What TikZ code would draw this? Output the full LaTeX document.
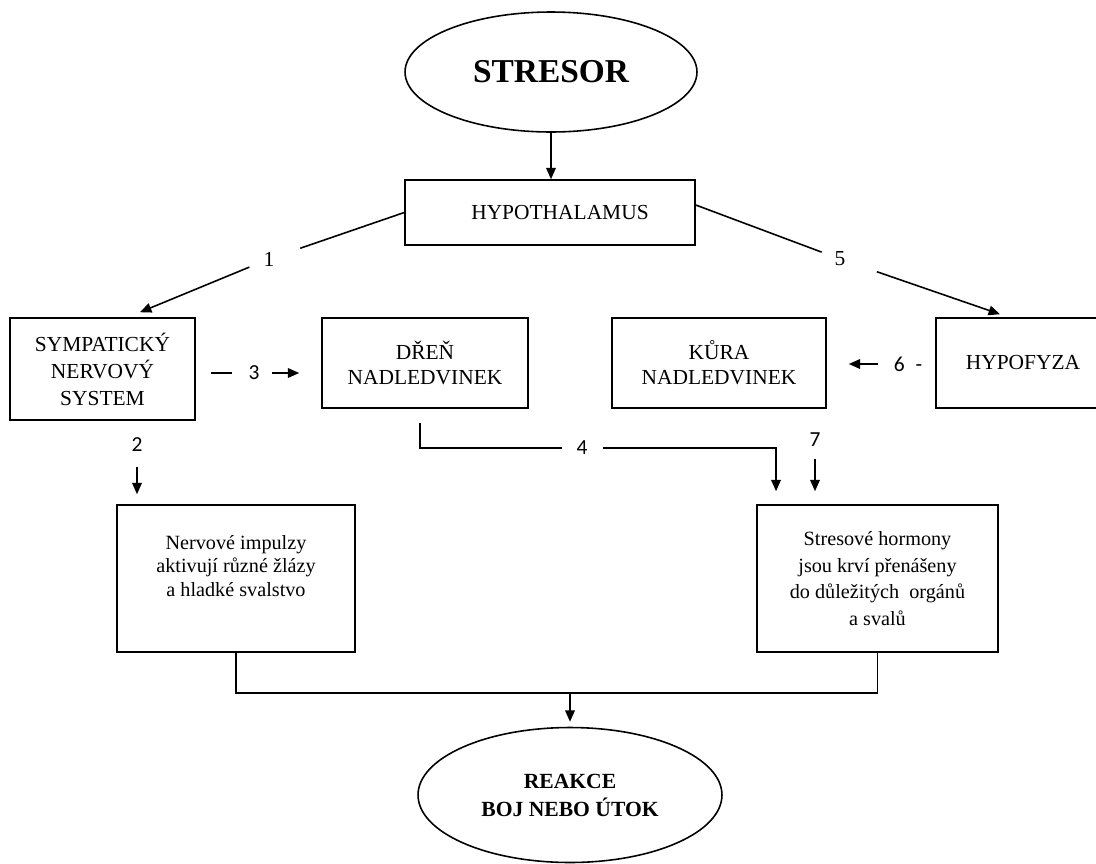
\documentclass[tikz,border=0pt]{standalone}
\usepackage{fontspec}
\setmainfont{Liberation Serif}
\newfontfamily\numfont{Carlito}
\usetikzlibrary{shapes.geometric,arrows.meta}

\begin{document}
\begin{tikzpicture}[x=0.02cm, y=-0.02cm,
	box/.style={draw, line width=0.9pt, inner sep=0pt, align=center, font=\fontsize{12.2}{15.4}\selectfont},
	oval/.style={draw, ellipse, line width=0.9pt, inner sep=0pt, align=center},
	small/.style={align=center, inner sep=0pt, font=\fontsize{11.5}{13.4}\selectfont},
	num/.style={inner sep=0pt, font=\fontsize{12.2}{14}\selectfont\numfont},
	snum/.style={inner sep=0pt, font=\fontsize{12.2}{14}\selectfont},
	line/.style={line width=0.9pt},
	arr/.style={line width=0.9pt, -{Triangle[length=6.5pt,width=5.5pt]}}]
	\useasboundingbox (0,0) rectangle (1096,863);
	\clip (0,0) rectangle (1096,863);
	% ovals
	\node[oval, minimum width=5.84cm, minimum height=2.4cm, font=\fontsize{19}{22}\selectfont\bfseries] (stresor) at (551,72) {STRESOR};
	\node[oval, minimum width=6.08cm, minimum height=2.7cm, font=\fontsize{12.3}{16}\selectfont\bfseries] (reakce) at (570,795) {REAKCE\\BOJ NEBO ÚTOK};
	% boxes
	\node[box, minimum width=5.8cm, minimum height=1.3cm] (hypothal) at (550,212.5) {\hspace*{0.4cm}HYPOTHALAMUS};
	\node[box, minimum width=3.7cm, minimum height=2.04cm] (sympat) at (102.5,369) {SYMPATICKÝ\\NERVOVÝ\\SYSTEM};
	\node[box, minimum width=4.12cm, minimum height=1.8cm, font=\fontsize{12.2}{14.2}\selectfont] (dren) at (425,363) {DŘEŇ\\NADLEDVINEK};
	\node[box, minimum width=4.28cm, minimum height=1.8cm, font=\fontsize{12.2}{14.2}\selectfont] (kura) at (719,363) {KŮRA\\NADLEDVINEK};
	\node[box, minimum width=3.48cm, minimum height=1.8cm] (hypofyza) at (1023,363) {HYPOFYZA};
	\node[box, minimum width=4.76cm, minimum height=2.94cm] (impulzy) at (236,578.5) {};
	\node[small] (impulzytxt) at (236,566) {Nervové impulzy\\aktivují různé žlázy\\a hladké svalstvo};
	\node[box, minimum width=4.82cm, minimum height=2.94cm, font=\fontsize{11.5}{15.2}\selectfont] (hormony) at (877.5,578.5) {Stresové hormony\\jsou krví přenášeny\\do důležitých~ orgánů\\a svalů};
	% numbers
	\node[snum] (n1) at (269,259) {1};
	\node[num] (n2) at (137,445) {2};
	\node[num] (n3) at (254,373) {3};
	\node[num] (n4) at (582,448) {4};
	\node[snum] (n5) at (840,259) {5};
	\node[num] (n6) at (908,364) {6\hspace{0.22cm}-};
	\node[num] (n7) at (815,440) {7};
	% connectors
	\draw[arr] (stresor.south) -- (stresor.south |- hypothal.north);
	\draw[line, shorten >=0.54cm] (hypothal.west) -- (n1);
	\draw[arr, shorten <=0.3cm] (n1) -- ([xshift=0.75cm,yshift=0.1cm]sympat.north);
	\draw[line, shorten >=0.27cm] ([yshift=0.15cm]hypothal.east) -- (n5);
	\draw[arr, shorten <=0.66cm] (n5) -- ([xshift=-0.46cm,yshift=0.06cm]hypofyza.north);
	\draw[arr, shorten <=0.3cm, shorten >=0.2cm] (n2) -- (n2 |- impulzy.north);
	\draw[line, shorten <=0.3cm, shorten >=0.33cm] (sympat.east |- n3) -- (n3);
	\draw[arr, shorten <=0.25cm, shorten >=0.44cm] (n3) -- (dren.west |- n3);
	\draw[line, shorten <=0.28cm, shorten >=0.29cm] ([xshift=-0.1cm]dren.south) |- (n4);
	\draw[arr, shorten <=0.31cm, shorten >=0.26cm] (n4) -| ([xshift=-2.03cm]hormony.north);
	\draw[arr, shorten <=0.24cm, shorten >=0.26cm] (n7) -- (n7 |- hormony.north);
	\draw[arr, shorten <=0.31cm, shorten >=0.44cm] (n6) -- (kura.east |- n6);
	\coordinate (bus) at (570,693);
	\draw[line] (impulzy.south) |- (bus) -| (hormony.south);
	\draw[arr, shorten >=0.1cm] (bus) -- (reakce.north);
\end{tikzpicture}
\end{document}
